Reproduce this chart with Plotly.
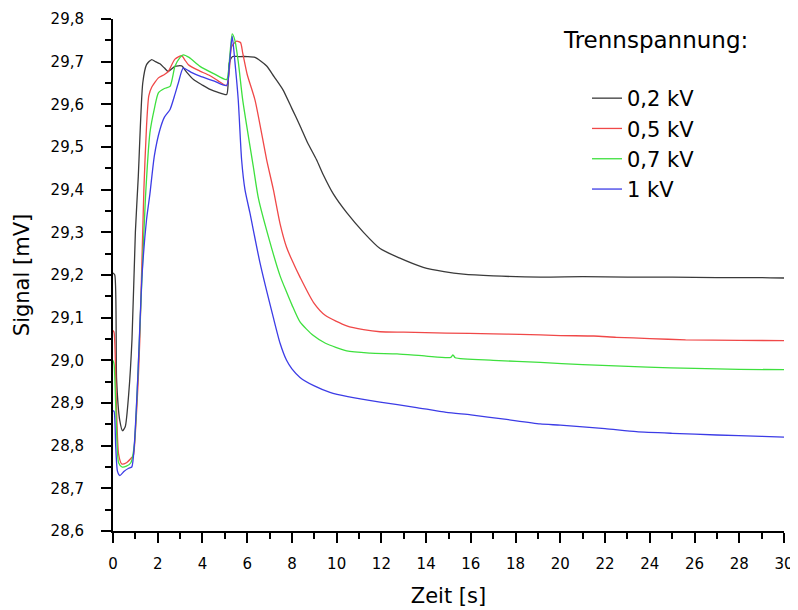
import plotly.graph_objects as go

# ---- data ----
t_02 = [0, 0.08, 0.16, 0.3, 0.43, 0.55, 0.7, 0.85, 1.0, 1.13, 1.33, 1.5, 1.73, 1.9, 2.1, 2.3, 2.47,
        2.77, 3.07, 3.3, 3.6, 4.0, 4.34, 4.7, 5.08, 5.15, 5.2, 5.35, 5.6, 6.0, 6.35, 6.87, 7.2, 7.6,
        8.0, 8.36, 8.7, 9.1, 9.4, 9.85, 10.45, 11.2, 11.94, 12.8, 13.87, 14.8, 15.66, 17, 19.1, 21,
        23, 25, 27, 29, 30]
y_02 = [29.205, 29.2, 28.956, 28.86, 28.835, 28.845, 28.92, 29.05, 29.3, 29.43, 29.65, 29.693, 29.705,
        29.70, 29.695, 29.685, 29.677, 29.689, 29.69, 29.675, 29.658, 29.645, 29.635, 29.628, 29.623,
        29.65, 29.697, 29.712, 29.712, 29.712, 29.71, 29.69, 29.665, 29.634, 29.59, 29.55, 29.51,
        29.47, 29.435, 29.39, 29.346, 29.30, 29.262, 29.24, 29.218, 29.208, 29.202, 29.198, 29.195,
        29.196, 29.195, 29.195, 29.194, 29.194, 29.193]

t_05 = [0, 0.05, 0.15, 0.25, 0.39, 0.6, 0.8, 0.91, 1.0, 1.13, 1.2, 1.38, 1.5, 1.6, 1.73, 2.03, 2.3,
        2.47, 2.77, 3.07, 3.2, 3.37, 3.8, 4.34, 4.7, 5.08, 5.2, 5.3, 5.53, 5.7, 5.8, 6.0, 6.35, 6.87,
        7.17, 7.47, 7.76, 8.0, 8.36, 8.96, 9.5, 10.45, 11.2, 11.94, 13, 14.9, 17, 18.2, 20, 21.5,
        22.5, 24, 25.6, 28, 30]
y_05 = [29.07, 29.065, 28.9, 28.78, 28.757, 28.76, 28.77, 28.777, 28.83, 28.956, 29.05, 29.4, 29.55,
        29.62, 29.64, 29.662, 29.67, 29.677, 29.706, 29.714, 29.705, 29.693, 29.68, 29.667, 29.655,
        29.644, 29.68, 29.735, 29.748, 29.745, 29.72, 29.67, 29.61, 29.47, 29.40, 29.32, 29.265,
        29.235, 29.195, 29.136, 29.105, 29.081, 29.072, 29.067, 29.066, 29.064, 29.062, 29.061,
        29.058, 29.057, 29.054, 29.051, 29.048, 29.047, 29.046]

t_07 = [0, 0.05, 0.15, 0.25, 0.4, 0.6, 0.8, 0.95, 1.1, 1.3, 1.45, 1.65, 1.85, 2.03, 2.3, 2.55, 2.77,
        3.0, 3.14, 3.4, 3.89, 4.5, 5.08, 5.2, 5.33, 5.45, 5.6, 5.8, 6.27, 6.5, 7.0, 7.47, 7.76, 8.0,
        8.36, 8.96, 9.5, 10.45, 11.5, 12.7, 14, 15.1, 15.2, 15.3, 17, 19.1, 21, 23.9, 26, 28, 30]
y_07 = [29.0, 28.99, 28.85, 28.76, 28.75, 28.752, 28.76, 28.8, 28.95, 29.2, 29.38, 29.533, 29.59,
        29.627, 29.637, 29.642, 29.689, 29.71, 29.716, 29.71, 29.689, 29.672, 29.658, 29.70, 29.765,
        29.75, 29.70, 29.61, 29.455, 29.38, 29.28, 29.198, 29.16, 29.13, 29.09, 29.058, 29.04,
        29.022, 29.017, 29.015, 29.01, 29.007, 29.013, 29.006, 29.0, 28.995, 28.99, 28.984, 28.981,
        28.979, 28.978]

t_10 = [0, 0.05, 0.12, 0.2, 0.31, 0.5, 0.7, 0.84, 0.95, 1.1, 1.3, 1.5, 1.65, 1.85, 2.1, 2.3, 2.55,
        2.75, 2.92, 3.14, 3.5, 3.89, 4.5, 5.08, 5.2, 5.33, 5.45, 5.6, 5.75, 5.9, 6.12, 6.57, 7.17,
        7.47, 7.76, 8.0, 8.36, 9.0, 9.7, 10.5, 11.94, 13.5, 14.9, 16, 17.5, 19.1, 20, 22, 23.4, 25,
        27, 29, 30]
y_10 = [28.882, 28.88, 28.8, 28.74, 28.73, 28.74, 28.747, 28.75, 28.8, 28.95, 29.2, 29.33, 29.39,
        29.48, 29.541, 29.57, 29.588, 29.62, 29.65, 29.685, 29.675, 29.666, 29.655, 29.644, 29.69,
        29.76, 29.70, 29.61, 29.47, 29.40, 29.346, 29.229, 29.10, 29.04, 29.0, 28.98, 28.96, 28.94,
        28.925, 28.915, 28.902, 28.89, 28.878, 28.872, 28.862, 28.851, 28.848, 28.84, 28.833,
        28.829, 28.825, 28.822, 28.82]

series_names = ["0,2 kV", "0,5 kV", "0,7 kV", "1 kV"]
series_colors = ["#3a3a3a", "#f04848", "#3ee03e", "#3c3ce6"]
series_t = [t_02, t_05, t_07, t_10]
series_y = [y_02, y_05, y_07, y_10]

FONT = "DejaVu Sans"
# the page body has an 8px default margin, so the figure is drawn 8px in and down
OFF = 8
W, H = 798 - OFF, 610 - OFF
# plot area in screen pixels: x 113..784, y 19..531
ML, MT = 113 - OFF, 19 - OFF
MR = W - (784 - OFF)
MB = H - (531 - OFF)
plot_w = W - ML - MR
plot_h = H - MT - MB


def px(sx):
    return (sx - 113) / plot_w


def py(sy):
    return (531 - sy) / plot_h


fig = go.Figure()
for name, color, tx, ty in zip(series_names, series_colors, series_t, series_y):
    fig.add_trace(go.Scatter(x=tx, y=ty, mode="lines", name=name,
                             line=dict(color=color, width=1.3, shape="spline", smoothing=0.6)))

fig.update_layout(
    width=W, height=H,
    margin=dict(l=ML, r=MR, t=MT, b=MB, autoexpand=False),
    paper_bgcolor="white", plot_bgcolor="white",
    separators=",.",
    font=dict(family=FONT, color="black"),
    showlegend=True,
    legend=dict(x=px(587), y=py(78), xanchor="left", yanchor="top",
                font=dict(family=FONT, size=21, color="black"),
                bgcolor="rgba(0,0,0,0)", tracegroupgap=0),
    annotations=[dict(text="Trennspannung:", x=px(561), y=py(40),
                      xref="paper", yref="paper", xanchor="left", yanchor="middle",
                      showarrow=False, font=dict(family=FONT, size=23, color="black"))],
)

fig.update_xaxes(
    range=[0, 30], dtick=2, tick0=0, automargin=False,
    showline=True, linecolor="black", linewidth=2,
    ticks="outside", ticklen=10, tickwidth=2, tickcolor="black",
    minor=dict(dtick=1, ticks="outside", ticklen=6, tickwidth=2, tickcolor="black"),
    showgrid=False, zeroline=False,
    ticklabelstandoff=8,
    tickfont=dict(family=FONT, size=15),
    title=dict(text="Zeit [s]", font=dict(family=FONT, size=21), standoff=16),
)
fig.update_yaxes(
    range=[28.6, 29.8], dtick=0.1, tick0=28.6, tickformat=".1f", automargin=False,
    showline=True, linecolor="black", linewidth=2,
    ticks="outside", ticklen=10, tickwidth=2, tickcolor="black",
    minor=dict(dtick=0.05, ticks="outside", ticklen=6, tickwidth=2, tickcolor="black"),
    showgrid=False, zeroline=False,
    ticklabelstandoff=14,
    tickfont=dict(family=FONT, size=15),
    title=dict(text="Signal [mV]", font=dict(family=FONT, size=21), standoff=15),
)

fig.write_html("out.html")
